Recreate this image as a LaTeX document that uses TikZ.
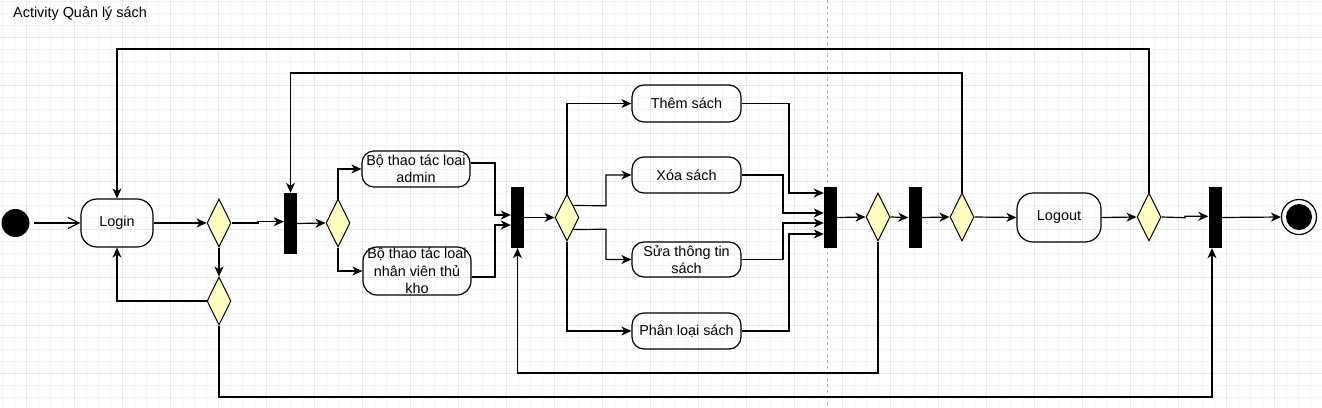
\documentclass[tikz,border=0pt]{standalone}
\usepackage{fontspec}
\setmainfont{Liberation Sans}
\usetikzlibrary{shapes.geometric,arrows.meta}
\definecolor{dyel}{HTML}{FFFFC0}
\definecolor{gmin}{HTML}{F4F4F4}
\definecolor{gmaj}{HTML}{E6E6E6}
\begin{document}
\begin{tikzpicture}[x=1pt,y=-1pt,
  txt/.style={font=\fontsize{14.4}{17.3}\selectfont},
  act/.style={draw, line width=1.2pt, rounded corners=12pt, minimum width=108pt, minimum height=36pt, inner sep=0pt, align=center, txt},
  dec/.style={diamond, draw, line width=1pt, fill=dyel, minimum width=24pt, minimum height=48pt, inner sep=0pt},
  bar/.style={rectangle, fill=black, minimum width=13pt, minimum height=61pt, inner sep=0pt},
  flow/.style={line width=1.2pt, -{Stealth[length=10pt,width=9pt,inset=3pt]}},
  openflow/.style={line width=1.2pt, -{Straight Barb[length=11pt,width=11pt]}},
]
\useasboundingbox (0,0) rectangle (1322,407);
\fill[white] (0,0) rectangle (1322,407);
% grid
\foreach \x in {2,14,...,1322} \draw[gmin, line width=0.8pt] (\x,0) -- (\x,407);
\foreach \y in {1,13,...,407} \draw[gmin, line width=0.8pt] (0,\y) -- (1322,\y);
\foreach \x in {26,74,...,1322} \draw[gmaj, line width=0.9pt] (\x,0) -- (\x,407);
\foreach \y in {37,85,...,407} \draw[gmaj, line width=0.9pt] (0,\y) -- (1322,\y);
\draw[black!30, dashed, dash pattern=on 3pt off 3pt, line width=0.8pt] (827,0) -- (827,407);

% title
\node[txt, anchor=west, inner sep=0pt] (title) at (13,14) {Activity Quản lý sách};

% nodes
\node[circle, fill=black, minimum size=28pt, inner sep=0pt] (start) at (15.5,223) {};
\node[act, rounded corners=16pt, minimum width=72pt, minimum height=48pt] (login) at (117,223) {Login};
\node[dec] (d1) at (219,223) {};
\node[dec] (d2) at (219,301) {};
\node[bar] (bar1) at (290.5,223.5) {};
\node[dec] (d3) at (338,223) {};
\node[act] (admin) at (416,169) {Bộ thao tác loai\\admin};
\node[act, minimum height=48pt, rounded corners=14pt] (nv) at (417,271) {Bộ thao tác loai\\nhân viên thủ\\kho};
\node[bar] (bar2) at (517.5,217.5) {};
\node[dec, minimum height=47pt] (d4) at (567,217.5) {};
\node[act, minimum width=109pt, minimum height=37pt] (them) at (686.5,103.5) {Thêm sách};
\node[act, minimum width=109pt] (xoa) at (686.5,175) {Xóa sách};
\node[act, minimum width=109pt, minimum height=35pt] (sua) at (686.5,259.5) {Sửa thông tin\\sách};
\node[act, minimum width=109pt] (phan) at (686.5,331) {Phân loại sách};
\node[bar] (bar3) at (830.5,217.5) {};
\node[dec] (d5) at (878,217) {};
\node[bar] (bar4) at (915,217.5) {};
\node[dec] (d6) at (962,217) {};
\node[act, rounded corners=16pt, minimum width=84pt, minimum height=49pt] (logout) at (1059,217.5) {Logout};
\node[dec] (d7) at (1149,217) {};
\node[bar] (bar5) at (1215,217.5) {};
\node[circle, draw, line width=1.2pt, minimum size=35pt, inner sep=0pt] (end) at (1299,217) {};
\fill (end.center) circle (13pt);

% connectors
\draw[openflow, shorten <=4pt] (start.east) -- (login.west);
\draw[flow] (login.east) -- (d1.west);
\draw[flow] (d1.east) -- (258,223) -- (258,221.7) -- (bar1.west |- 0,221.7);
\draw[flow] (d1.south) -- (d2.north);
\draw[flow] (d2.west) -| (login.south);
\draw[flow] (d2.south) -- (219,397) -| ([xshift=-3pt]bar5.south);
\draw[flow] (bar1.east) -- (d3.west);
\draw[flow] (d3.north) |- (admin.west);
\draw[flow] (d3.south) |- (nv.west);
\draw[flow] ([yshift=6pt]admin.east) -| (495,215) -- (bar2.west |- 0,215);
\draw[flow] ([yshift=-6pt]nv.east) -| (495,225) -- (bar2.west |- 0,225);
\draw[flow] (bar2.east) -- (d4.west);
\draw[flow] (d4.north) |- (them.west);
\draw[flow] (d4.north east) -- (606,205.75) |- (xoa.west);
\draw[flow] (d4.south east) -- (606,229.25) |- (sua.west);
\draw[flow] (d4.south) |- (phan.west);
\draw[flow] (them.east) -| (789,193) -- (bar3.west |- 0,193);
\draw[flow] (xoa.east) -| (783,213) -- (bar3.west |- 0,213);
\draw[flow] (sua.east) -| (783,223) -- (bar3.west |- 0,223);
\draw[flow] (phan.east) -| (789,234) -- (bar3.west |- 0,234);
\draw[flow] (bar3.east) -- (d5.west);
\draw[flow] (d5.south) -- (878,373) -| (bar2.south);
\draw[flow] (d5.east) -- (bar4.west);
\draw[flow] (bar4.east) -- (d6.west);
\draw[flow] (d6.north) -- (962,73) -| (bar1.north);
\draw[flow] (d6.east) -- (logout.west);
\draw[flow] (logout.east) -- (d7.west);
\draw[flow] (d7.north) -- (1149,49) -| (login.north);
\draw[flow] (d7.east) -- (1185,217.7) -- (1185,216.3) -- (bar5.west |- 0,216.3);
\draw[flow] (bar5.east) -- (end.west);
\end{tikzpicture}
\end{document}
